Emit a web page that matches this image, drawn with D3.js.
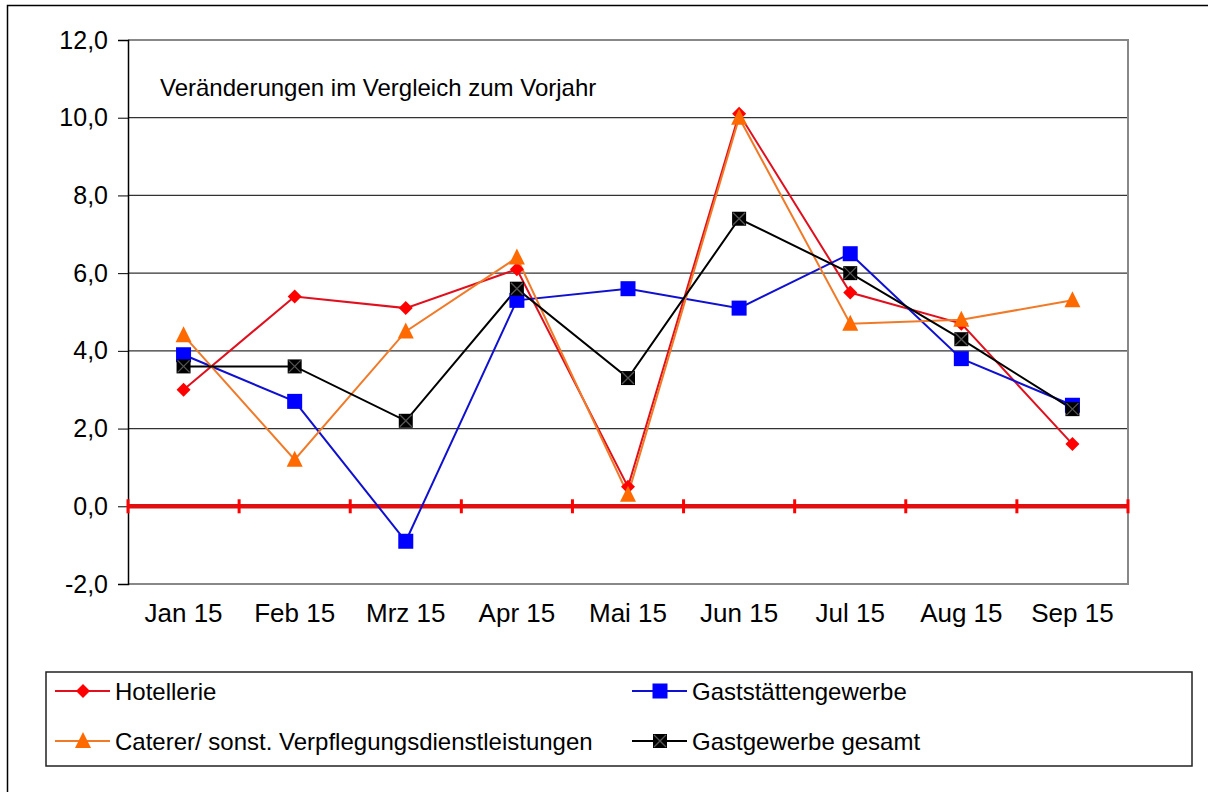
<!DOCTYPE html>
<html><head><meta charset="utf-8">
<script src="https://cdn.jsdelivr.net/npm/d3@7/dist/d3.min.js"></script>
<style>body{margin:0;background:#fff}svg{display:block;font-family:"Liberation Sans",Arial,sans-serif}</style>
</head><body><svg id="c" width="1208" height="792"></svg>
<script>
const categories = ["Jan 15","Feb 15","Mrz 15","Apr 15","Mai 15","Jun 15","Jul 15","Aug 15","Sep 15"];
const hotellerie = [3.0,5.4,5.1,6.1,0.5,10.1,5.5,4.7,1.6];
const gaststaetten = [3.9,2.7,-0.9,5.3,5.6,5.1,6.5,3.8,2.6];
const caterer = [4.4,1.2,4.5,6.4,0.3,10.0,4.7,4.8,5.3];
const gesamt = [3.6,3.6,2.2,5.6,3.3,7.4,6.0,4.3,2.5];
const yTicks = [-2,0,2,4,6,8,10,12];
const seriesNames = ["Hotellerie","Gaststättengewerbe","Caterer/ sonst. Verpflegungsdienstleistungen","Gastgewerbe gesamt"];
const annotation = "Veränderungen im Vergleich zum Vorjahr";

const svg = d3.select("#c");
const L=128,R=1128,T=40,B=584;
const x = d3.scaleBand().domain(categories).range([L,R]);
const y = d3.scaleLinear().domain([-2,12]).range([B,T]);
const fmt = v => (v<0?"-":"") + Math.abs(v).toFixed(1).replace(".",",");

// outer frame
svg.append("path").attr("d","M7.5,800 L7.5,5.5 L1210,5.5").attr("fill","none").attr("stroke","#000").attr("stroke-width",1.5);

// grid
const g = svg.append("g");
g.selectAll("line.grid").data(yTicks.filter(v=>v>0)).join("line")
 .attr("x1",L).attr("x2",R).attr("y1",d=>y(d)).attr("y2",d=>y(d))
 .attr("stroke","#333").attr("stroke-width",1.2);
g.append("path").attr("d",`M${L},${y(12)} L${R},${y(12)} L${R},${B} L${L},${B}`).attr("fill","none").attr("stroke","#888").attr("stroke-width",2);

// y axis
const yAx = svg.append("g").attr("transform",`translate(${L},0)`)
 .call(d3.axisLeft(y).tickValues(yTicks).tickFormat(fmt).tickSize(10).tickPadding(10));
yAx.select(".domain").attr("stroke","#000").attr("stroke-width",1.5);
yAx.selectAll(".tick line").attr("stroke","#000");
yAx.selectAll("text").attr("font-size",25).attr("fill","#000").attr("font-family","Liberation Sans, Arial, sans-serif");

// zero line with ticks
svg.append("line").attr("x1",L).attr("x2",R).attr("y1",y(0)).attr("y2",y(0)).attr("stroke","#e01010").attr("stroke-width",4.5);
const bounds = categories.map(c=>x(c)).concat([R]);
svg.selectAll("line.zt").data(bounds).join("line").attr("class","zt")
 .attr("x1",d=>d).attr("x2",d=>d).attr("y1",y(0)-7).attr("y2",y(0)+7)
 .attr("stroke","#ff0000").attr("stroke-width",3);

// x labels
svg.selectAll("text.xl").data(categories).join("text").attr("class","xl")
 .attr("x",d=>x(d)+x.bandwidth()/2).attr("y",622).attr("text-anchor","middle")
 .attr("font-size",26).attr("fill","#000").text(d=>d);

// annotation
svg.append("text").attr("x",160).attr("y",96).attr("font-size",24).attr("fill","#000").text(annotation);

const cx = (d,i)=>x(categories[i])+x.bandwidth()/2;
const line = d3.line().x(cx).y(d=>y(d));

const series = [
 {name:seriesNames[0],vals:hotellerie,stroke:"#e0101e",fill:"#ff0000",marker:"diamond"},
 {name:seriesNames[1],vals:gaststaetten,stroke:"#1010d0",fill:"#0000ff",marker:"square"},
 {name:seriesNames[2],vals:caterer,stroke:"#f07a28",fill:"#ff6a00",marker:"triangle"},
 {name:seriesNames[3],vals:gesamt,stroke:"#000",fill:"#000",marker:"xsquare"}
];

function drawMarker(sel,s,px,py){
 if(s.marker==="diamond"){
  sel.append("path").attr("d",`M${px},${py-7}L${px+7},${py}L${px},${py+7}L${px-7},${py}Z`).attr("fill",s.fill);
 } else if(s.marker==="square"){
  sel.append("rect").attr("x",px-7.5).attr("y",py-7.5).attr("width",15).attr("height",15).attr("fill",s.fill);
 } else if(s.marker==="triangle"){
  sel.append("path").attr("d",`M${px},${py-9}L${px+8},${py+7}L${px-8},${py+7}Z`).attr("fill",s.fill);
 } else {
  sel.append("rect").attr("x",px-7).attr("y",py-7).attr("width",14).attr("height",14).attr("fill","#000");
  sel.append("path").attr("d",`M${px-6},${py-6}L${px+6},${py+6}M${px+6},${py-6}L${px-6},${py+6}`).attr("stroke","#555").attr("stroke-width",1.3);
 }
}

series.forEach(s=>{
 svg.append("path").datum(s.vals).attr("d",line).attr("fill","none").attr("stroke",s.stroke).attr("stroke-width",2);
});
series.forEach(s=>{
 const mg = svg.append("g");
 s.vals.forEach((v,i)=>drawMarker(mg,s,cx(v,i),y(v)));
});

// legend
svg.append("rect").attr("x",46).attr("y",672).attr("width",1146).attr("height",94).attr("fill","#fff").attr("stroke","#222").attr("stroke-width",1.5);
const legPos = [[55,691],[632,691],[55,741],[632,741]];
series.forEach((s,i)=>{
 const [lx,ly]=legPos[i];
 const lg = svg.append("g");
 lg.append("line").attr("x1",lx).attr("x2",lx+55).attr("y1",ly).attr("y2",ly).attr("stroke",s.stroke).attr("stroke-width",2);
 drawMarker(lg,s,lx+28,ly);
 lg.append("text").attr("x",lx+60).attr("y",ly+9).attr("font-size",24).attr("fill","#000").text(s.name);
});
</script></body></html>
